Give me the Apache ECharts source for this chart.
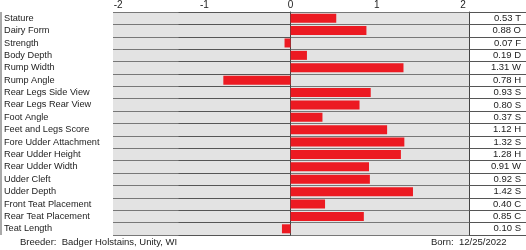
<!DOCTYPE html>
<html>
<head>
<meta charset="utf-8">
<script src="https://cdn.jsdelivr.net/npm/echarts@6/dist/echarts.min.js"></script>
<style>
html,body{margin:0;padding:0;background:#fff;}
#c{width:526px;height:250px;}
</style>
</head>
<body>
<div id="c"></div>
<script>
var categories = ['Stature','Dairy Form','Strength','Body Depth','Rump Width','Rump Angle','Rear Legs Side View','Rear Legs Rear View','Foot Angle','Feet and Legs Score','Fore Udder Attachment','Rear Udder Height','Rear Udder Width','Udder Cleft','Udder Depth','Front Teat Placement','Rear Teat Placement','Teat Length'];
var values = [0.53, 0.88, -0.07, 0.19, 1.31, -0.78, 0.93, 0.80, 0.37, 1.12, 1.32, 1.28, 0.91, 0.92, 1.42, 0.40, 0.85, -0.10];
var codes = ['T','O','F','D','W','H','S','S','S','H','S','H','W','S','S','C','C','S'];
var tickValues = [-2, -1, 0, 1, 2];
var breederText = 'Breeder:  Badger Holstains, Unity, WI';
var bornText = 'Born:  12/25/2022';

var font = 'Liberation Sans, Arial, sans-serif';
var chart = echarts.init(document.getElementById('c'), null, {renderer: 'canvas'});
chart.setOption({
  animation: false,
  backgroundColor: '#fff',
  textStyle: {fontFamily: font},
  title: [
    {text: breederText, left: 20, top: 237, padding: 0, textStyle: {fontSize: 9.5, fontWeight: 'normal', color: '#222', fontFamily: font}},
    {text: bornText, left: 431, top: 237, padding: 0, textStyle: {fontSize: 9.5, fontWeight: 'normal', color: '#222', fontFamily: font}}
  ],
  grid: {left: 113, right: 57, top: 12, bottom: 15, show: true, backgroundColor: '#e3e3e3', borderWidth: 0},
  graphic: [
    {type: 'line', shape: {x1: 1, y1: 12, x2: 1, y2: 235}, style: {stroke: '#555', lineWidth: 1}}
  ],
  xAxis: {
    type: 'value', position: 'top', min: -2.06, max: 2.07,
    axisLine: {show: false}, axisTick: {show: false}, splitLine: {show: false},
    axisLabel: {customValues: tickValues, fontSize: 10, color: '#222', margin: 2, fontFamily: font}
  },
  yAxis: [
    {
      type: 'category', data: categories, inverse: true,
      axisLine: {show: true, lineStyle: {color: '#444', width: 1}},
      axisTick: {show: true, length: 112, interval: 0, lineStyle: {color: '#555'}},
      splitLine: {show: true, interval: 0, lineStyle: {color: '#777'}},
      axisLabel: {align: 'left', margin: 109, fontSize: 9.2, color: '#222', interval: 0, fontFamily: font}
    },
    {
      type: 'category', data: categories, inverse: true, position: 'right',
      axisLine: {show: true, lineStyle: {color: '#444', width: 1}},
      axisTick: {show: true, length: 57, interval: 0, lineStyle: {color: '#555'}},
      axisLabel: {align: 'right', margin: 52, fontSize: 9.5, color: '#222', interval: 0, fontFamily: font,
        formatter: function (v, i) { return Math.abs(values[i]).toFixed(2) + ' ' + codes[i]; }}
    }
  ],
  series: [{
    type: 'bar', data: values, barWidth: 9, yAxisIndex: 0,
    itemStyle: {color: '#ec1a22'}
  }]
});
</script>
</body>
</html>
